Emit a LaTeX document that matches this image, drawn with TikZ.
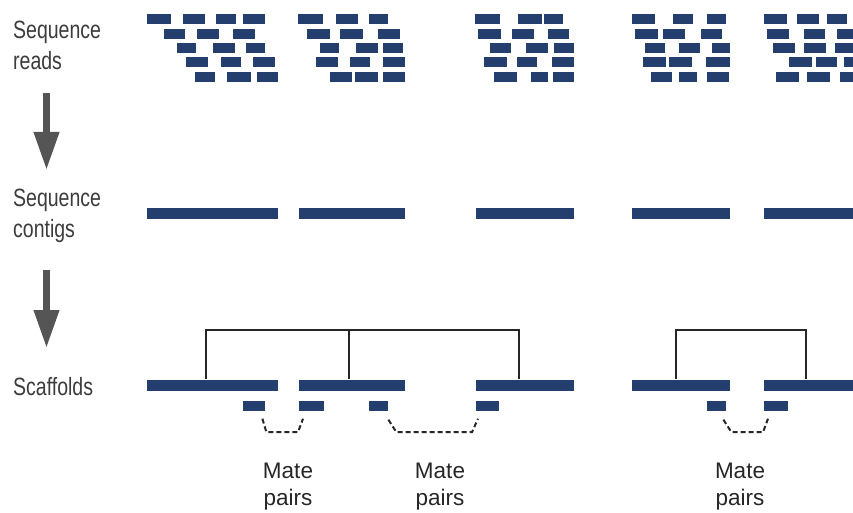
\documentclass[tikz,border=0pt]{standalone}
\usepackage{fontspec}
\setmainfont{Liberation Sans}
\newfontfamily\narrowsf{Liberation Sans}[FakeStretch=0.78]
\usetikzlibrary{calc,positioning}
\usetikzlibrary{arrows.meta}
\definecolor{readblue}{RGB}{36,62,110}
\definecolor{flowgray}{RGB}{85,85,85}
\definecolor{labelgray}{RGB}{60,60,60}
\tikzstyle{bar}=[fill=readblue, inner sep=0, minimum height=11pt, anchor=west]
\tikzstyle{matebox}=[bar, minimum height=10pt]
\tikzstyle{stage}=[anchor=north west, inner sep=0, align=left, text=labelgray,
font=\narrowsf\fontsize{25}{31}\selectfont]
\tikzstyle{matelabel}=[anchor=north, inner sep=0, align=center, text=black!85,
font=\fontsize{22.5}{27}\selectfont]
\tikzstyle{flow}=[-{Triangle[length=38pt,width=24pt]}, line width=7pt, flowgray]
\tikzstyle{link}=[line width=1.8pt, black!85]
\tikzstyle{matelink}=[link, line width=2pt, dash pattern=on 5pt off 3pt]

\begin{document}
\begin{tikzpicture}[x=1pt, y=-1pt]
\useasboundingbox (0,0) rectangle (853,513);

% stage labels and arrows
\node (lblreads) [stage] at (13,21) {Sequence\\reads};
\node (lblcontigs) [stage] at (13,189) {Sequence\\contigs};
\node (lblscaf) [stage] at (13,377) {Scaffolds};
\coordinate (flow1a) at (46.5,93);
\coordinate (flow1b) at (46.5,170);
\coordinate (flow2a) at (46.5,270);
\coordinate (flow2b) at (46.5,348);
\draw [flow] (flow1a) -- (flow1b);
\draw [flow] (flow2a) -- (flow2b);

% sequence reads
\foreach \y/\xs in {
  14/{147/171,183/205,216/236,243/265, 298/323,336/358,369/388, 475/500,518/542,544/563, 632/655,673/693,707/726, 764/787,797/819,827/847},
  29/{164/185,197/219,233/255, 307/330,340/363,378/400, 478/501,512/534,548/569, 635/658,663/685,701/722, 767/789,804/825,837/853},
  43/{177/196,213/235,246/265, 320/339,356/378,383/403, 490/511,526/548,554/574, 645/665,679/700,712/730, 773/795,804/826,835/853},
  57/{186/208,221/241,253/275, 316/338,350/370,383/405, 484/507,517/537,552/574, 643/666,669/692,706/730, 789/812,816/837,844/853},
  72/{195/215,227/251,257/278, 330/352,355/378,383/405, 494/517,531/548,553/574, 651/672,679/697,707/729, 776/799,807/830,840/853}}
  \foreach \a/\b in \xs
    \fill [readblue] (\a,\y) rectangle (\b,\y+10.5);

% sequence contigs
\node (c1) [bar, minimum width=131pt] at (147,213) {};
\node (c2) [bar, minimum width=106pt] at (299,213) {};
\node (c3) [bar, minimum width=98pt] at (476,213) {};
\node (c4) [bar, minimum width=98pt] at (632,213) {};
\node (c5) [bar, minimum width=89pt] at (764,213) {};

% scaffolds
\node (s1) [bar, minimum width=131pt] at (147,385) {};
\node (s2) [bar, minimum width=106pt] at (299,385) {};
\node (s3) [bar, minimum width=98pt] at (476,385) {};
\node (s4) [bar, minimum width=98pt] at (632,385) {};
\node (s5) [bar, minimum width=89pt] at (764,385) {};

\draw [link] ($(s1.north west)+(59,0)$) |- ($(s3.north west)+(43,-49.5)$) -- ($(s3.north west)+(43,0)$);
\draw [link] ($(s2.north west)+(50,0)$) -- ++(0,-49.5);
\draw [link] ($(s4.north west)+(44,0)$) |- ($(s5.north west)+(42,-49.5)$) -- ($(s5.north west)+(42,0)$);

% mate pairs
\node (mp1) [matebox, minimum width=22pt] at (243,405.5) {};
\node (mp2) [matebox, minimum width=25pt] at (299,405.5) {};
\node (mp3) [matebox, minimum width=19pt] at (369,405.5) {};
\node (mp4) [matebox, minimum width=23pt] at (476,405.5) {};
\node (mp5) [matebox, minimum width=19pt] at (707,405.5) {};
\node (mp6) [matebox, minimum width=24pt] at (764,405.5) {};

\draw [matelink] ($(mp1.south east)+(-3,8)$) -- ++(4,13.5) -- ($(mp2.south west)+(-1,21.5)$) -- ($(mp2.south west)+(4,8)$);
\draw [matelink] ($(mp3.south east)+(0,9)$) -- ++(8,12.5) -- ($(mp4.south west)+(-4,21.5)$) -- ($(mp4.south west)+(2,8)$);
\draw [matelink] ($(mp5.south east)+(-3,9)$) -- ++(8,12.5) -- ($(mp6.south west)+(-1,21.5)$) -- ($(mp6.south west)+(4,8)$);

\node (mate1) [matelabel] at (288,463) {Mate\\pairs};
\node (mate2) [matelabel] at (440,463) {Mate\\pairs};
\node (mate3) [matelabel] at (740,463) {Mate\\pairs};
\end{tikzpicture}
\end{document}
